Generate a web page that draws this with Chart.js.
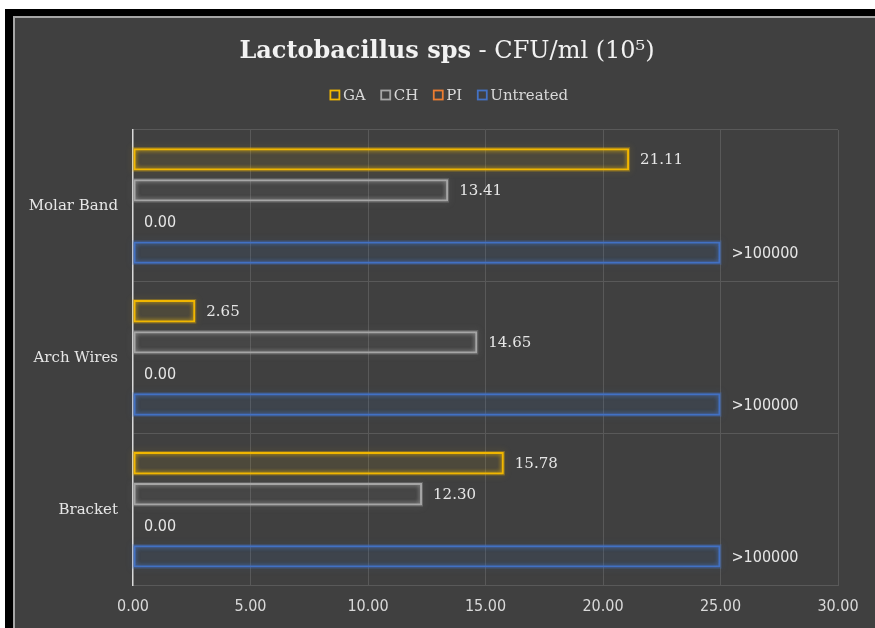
<!DOCTYPE html>
<html>
<head>
<meta charset="utf-8">
<script src="https://cdn.jsdelivr.net/npm/chart.js@4.4.1/dist/chart.umd.min.js"></script>
<style>
  html, body { margin: 0; padding: 0; background: #fff; overflow: hidden; }
  .frame { position: absolute; left: 5px; top: 9px; width: 870px; height: 619px; background: #000; }
  .panel { position: absolute; left: 8px; top: 7px; width: 860px; height: 610px; background: #404040;
           border-left: 2px solid #a6a6a6; border-top: 2px solid #a6a6a6; }
  canvas { display: block; }
</style>
</head>
<body>
<div class="frame">
  <div class="panel">
    <canvas id="myChart" width="860" height="610"></canvas>
  </div>
</div>
<script>
const categories = ['Molar Band', 'Arch Wires', 'Bracket'];
const seriesNames = ['GA', 'CH', 'PI', 'Untreated'];
const gaValues = [21.11, 2.65, 15.78];
const chValues = [13.41, 14.65, 12.30];
const piValues = [0, 0, 0];
// untreated bars are drawn at 25 in the original and labelled >100000
const untreatedValues = [25, 25, 25];
const untreatedLabels = ['>100000', '>100000', '>100000'];
const xTicks = [0, 5, 10, 15, 20, 25, 30];

const colors = ['#f2b800', '#a6a6a6', '#ed7d31', '#4472c4'];
const fills = ['rgba(255,192,0,0.04)', 'rgba(200,200,200,0.03)', 'rgba(237,125,49,0.04)', 'rgba(68,114,196,0.05)'];
const serif = '"DejaVu Serif", "Liberation Serif", serif';
const sans = '"DejaVu Sans Condensed", "Liberation Sans Narrow", "DejaVu Sans", sans-serif';

const values = [gaValues, chValues, piValues, untreatedValues];
const labels = [
  gaValues.map(v => v.toFixed(2)),
  chValues.map(v => v.toFixed(2)),
  piValues.map(v => v.toFixed(2)),
  untreatedLabels
];
const labelFonts = ['15px ' + serif, '15px ' + serif, '16px ' + sans, '16px ' + sans];

// title with mixed weight + hollow-box legend
const headerPlugin = {
  id: 'header',
  afterDraw(chart) {
    const ctx = chart.ctx;
    const cx = chart.width / 2 + 2;
    ctx.save();
    ctx.fillStyle = '#f2f2f2';
    ctx.textBaseline = 'alphabetic';
    const part1 = 'Lactobacillus sps';
    const part2 = ' - CFU/ml (10\u2075)';
    ctx.font = 'bold 24px ' + serif;
    const w1 = ctx.measureText(part1).width;
    ctx.font = '24px ' + serif;
    const w2 = ctx.measureText(part2).width;
    let x = cx - (w1 + w2) / 2;
    ctx.font = 'bold 24px ' + serif;
    ctx.fillText(part1, x, 40);
    ctx.font = '24px ' + serif;
    ctx.fillText(part2, x + w1, 40);

    // legend
    ctx.font = '15px ' + serif;
    const box = 9, gapText = 4, gapItem = 15;
    const widths = seriesNames.map(n => box + gapText + ctx.measureText(n).width);
    const total = widths.reduce((a, b) => a + b, 0) + gapItem * (seriesNames.length - 1);
    x = cx + 2 - total / 2;
    const y = 77;
    ctx.textBaseline = 'middle';
    seriesNames.forEach((n, i) => {
      ctx.strokeStyle = colors[i];
      ctx.lineWidth = 1.8;
      ctx.strokeRect(x + 0.5, y - box / 2, box, box);
      ctx.fillStyle = '#d9d9d9';
      ctx.fillText(n, x + box + gapText, y + 1);
      x += widths[i] + gapItem;
    });
    ctx.restore();
  }
};

// soft glow on bar outlines
const glowPlugin = {
  id: 'glow',
  beforeDatasetDraw(chart, args) {
    const ctx = chart.ctx;
    ctx.save();
    ctx.shadowColor = colors[args.index];
    ctx.shadowBlur = 4;
  },
  afterDatasetDraw(chart, args) {
    const ctx = chart.ctx;
    ctx.restore();
    ctx.save();
    ctx.strokeStyle = colors[args.index];
    ctx.globalAlpha = 0.35;
    ctx.shadowColor = colors[args.index];
    ctx.shadowBlur = 6;
    ctx.lineWidth = 1;
    args.meta.data.forEach(bar => {
      const p = bar.getProps(['x', 'y', 'base', 'height']);
      const w = p.x - p.base;
      if (w <= 0) return;
      ctx.strokeRect(p.base - 0.5, p.y - p.height / 2 - 0.5, w + 1, p.height + 1);
    });
    ctx.restore();
  }
};

// value labels at the end of each bar
const valueLabels = {
  id: 'valueLabels',
  afterDatasetsDraw(chart) {
    const ctx = chart.ctx;
    ctx.save();
    ctx.fillStyle = '#e6e6e6';
    ctx.textBaseline = 'middle';
    ctx.textAlign = 'left';
    chart.data.datasets.forEach((ds, d) => {
      ctx.font = labelFonts[d];
      chart.getDatasetMeta(d).data.forEach((bar, i) => {
        ctx.fillText(labels[d][i], bar.x + 11, bar.y + 1);
      });
    });
    ctx.restore();
  }
};

const ctx = document.getElementById('myChart').getContext('2d');

new Chart(ctx, {
  type: 'bar',
  data: {
    labels: categories,
    datasets: seriesNames.map((name, i) => ({
      label: name,
      data: values[i],
      borderColor: colors[i],
      backgroundColor: fills[i],
      borderWidth: 2,
      borderSkipped: false,
      categoryPercentage: 0.818,
      barPercentage: 0.72
    }))
  },
  options: {
    indexAxis: 'y',
    responsive: false,
    animation: false,
    layout: { padding: { top: 112, right: 37, bottom: 0, left: 0 } },
    plugins: {
      legend: { display: false },
      title: { display: false },
      tooltip: { enabled: false }
    },
    scales: {
      x: {
        min: 0,
        max: 30,
        afterBuildTicks(scale) { scale.ticks = xTicks.map(v => ({ value: v })); },
        ticks: {
          color: '#d9d9d9',
          font: { family: sans, size: 16 },
          padding: 11.5,
          callback: v => Number(v).toFixed(2)
        },
        grid: {
          drawTicks: false,
          color: c => (c.tick && c.tick.value === 0) ? 'rgba(0,0,0,0)' : '#595959',
          lineWidth: 1
        },
        border: { color: '#595959', width: 1 }
      },
      y: {
        afterFit(scale) { scale.width = 118; },
        ticks: {
          color: '#e6e6e6',
          font: { family: serif, size: 15 },
          padding: 15
        },
        grid: { drawTicks: false, color: '#595959', lineWidth: 1 },
        border: { color: '#d9d9d9', width: 1.5 }
      }
    }
  },
  plugins: [glowPlugin, valueLabels, headerPlugin]
});
</script>
</body>
</html>
